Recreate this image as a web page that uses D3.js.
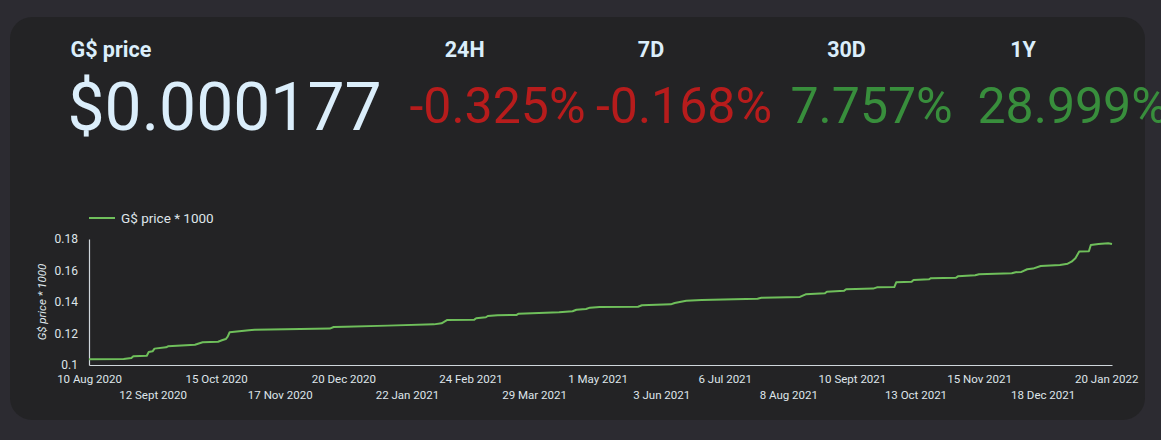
<!DOCTYPE html>
<html>
<head>
<meta charset="utf-8">
<script src="https://cdn.jsdelivr.net/npm/d3@7"></script>
<style>
  html, body { margin: 0; padding: 0; background: #2c2b31; overflow: hidden; }
  svg { display: block; font-family: Roboto, "Noto Sans", sans-serif; }
</style>
</head>
<body>
<svg id="chart" width="1161" height="440"></svg>
<script>
// ---------- data ----------
const priceLabel = "G$ price";
const currentPrice = "$0.000177";
const periods = ["24H", "7D", "30D", "1Y"];
const changes = [-0.325, -0.168, 7.757, 28.999];

const seriesName = "G$ price * 1000";
const dates = ["2020-08-10","2020-08-28","2020-09-01","2020-09-02","2020-09-09","2020-09-10","2020-09-12","2020-09-13","2020-09-19","2020-09-20","2020-10-04","2020-10-08","2020-10-16","2020-10-18","2020-10-20","2020-10-21","2020-10-22","2020-11-01","2020-11-04","2020-11-20","2020-12-13","2020-12-15","2020-12-21",
"2021-01-12","2021-02-05","2021-02-09","2021-02-12","2021-02-26","2021-02-27","2021-03-04","2021-03-05","2021-03-10","2021-03-20","2021-03-21","2021-04-11","2021-04-18","2021-04-20","2021-04-25","2021-04-27","2021-05-02",
"2021-05-22","2021-05-24","2021-06-08","2021-06-10","2021-06-16","2021-06-24","2021-07-11","2021-07-23","2021-07-25","2021-08-14","2021-08-17","2021-08-27","2021-08-28","2021-09-06","2021-09-07","2021-09-12",
"2021-09-21","2021-09-23","2021-10-02","2021-10-03","2021-10-11","2021-10-12","2021-10-20","2021-10-21","2021-11-03","2021-11-04","2021-11-13","2021-11-15","2021-12-02","2021-12-04","2021-12-07","2021-12-10","2021-12-13","2021-12-17","2021-12-27","2021-12-31","2022-01-02","2022-01-04","2022-01-06","2022-01-11","2022-01-12","2022-01-16","2022-01-21","2022-01-23"];
const values = [0.1036,0.1038,0.1044,0.1055,0.1059,0.1083,0.1087,0.1104,0.1112,0.1119,0.1129,0.1144,0.1148,0.1157,0.1165,0.1180,0.1208,0.1220,0.1224,0.1227,0.1231,0.1241,0.1243,
0.1250,0.1258,0.1265,0.1286,0.1288,0.1297,0.1303,0.1311,0.1316,0.1318,0.1326,0.1335,0.1341,0.1351,0.1356,0.1364,0.1368,
0.1370,0.1379,0.1385,0.1394,0.1408,0.1413,0.1417,0.1421,0.1427,0.1432,0.1449,0.1455,0.1465,0.1472,0.1481,0.1483,
0.1485,0.1493,0.1495,0.1525,0.1529,0.1540,0.1544,0.1551,0.1554,0.1563,0.1570,0.1576,0.1582,0.1589,0.1591,0.1608,0.1612,0.1629,0.1635,0.1643,0.1656,0.1678,0.1720,0.1722,0.1762,0.1768,0.1773,0.1768];

const xTickDates = ["2020-08-10","2020-09-12","2020-10-15","2020-11-17","2020-12-20","2021-01-22","2021-02-24","2021-03-29","2021-05-01","2021-06-03","2021-07-06","2021-08-08","2021-09-10","2021-10-13","2021-11-15","2021-12-18","2022-01-20"];
const xTickLabels = ["10 Aug 2020","12 Sept 2020","15 Oct 2020","17 Nov 2020","20 Dec 2020","22 Jan 2021","24 Feb 2021","29 Mar 2021","1 May 2021","3 Jun 2021","6 Jul 2021","8 Aug 2021","10 Sept 2021","13 Oct 2021","15 Nov 2021","18 Dec 2021","20 Jan 2022"];
const yTicks = [0.1, 0.12, 0.14, 0.16, 0.18];
const yTickLabels = ["0.1", "0.12", "0.14", "0.16", "0.18"];
const xDomain = ["2020-08-10", "2022-01-23"];

// ---------- drawing ----------
const parse = d3.utcParse("%Y-%m-%d");
const svg = d3.select("#chart");

const headColor = "#dbeefb";
const axisText = "#dfe5ea";
const red = "#b71c1c", green = "#388e3c";
const lineColor = "#6fbf5b";

// card
svg.append("rect").attr("x", 10).attr("y", 17).attr("width", 1135).attr("height", 403)
  .attr("rx", 22).attr("fill", "#232325");

// header
svg.append("text").attr("x", 70.5).attr("y", 56.7).attr("fill", headColor)
  .attr("font-size", 21.5).attr("font-weight", 700).text(priceLabel);
svg.append("text").attr("x", 67.5).attr("y", 130).attr("fill", headColor)
  .attr("font-size", 66).attr("font-weight", 400).text(currentPrice);

const labelCenters = [464.7, 651, 846.5, 1023];
const valueStarts = [409.5, 596, 790.5, 977.5];
periods.forEach((p, i) => {
  svg.append("text").attr("x", labelCenters[i]).attr("y", 56.7).attr("text-anchor", "middle")
    .attr("fill", headColor).attr("font-size", 21.5).attr("font-weight", 700).text(p);
  svg.append("text").attr("x", valueStarts[i]).attr("y", 122.7)
    .attr("fill", changes[i] < 0 ? red : green)
    .attr("font-size", 50).attr("font-weight", 400)
    .text(changes[i].toFixed(3) + "%");
});

// scales
const x = d3.scaleUtc().domain(xDomain.map(parse)).range([89, 1112]);
const y = d3.scaleLinear().domain([0.1, 0.18]).range([365, 239]);

// y axis
const yAxis = svg.append("g").attr("transform", "translate(89,0)")
  .call(d3.axisLeft(y).tickValues(yTicks).tickSize(0).tickPadding(11)
    .tickFormat((d, i) => yTickLabels[i]));
yAxis.select(".domain").attr("stroke", "#cfd6db").attr("stroke-width", 1.2);
yAxis.selectAll("text").attr("fill", axisText).attr("font-size", 12)
  .attr("font-family", "Roboto, sans-serif");

// x axis
const xAxis = svg.append("g").attr("transform", "translate(0,365)")
  .call(d3.axisBottom(x).tickValues(xTickDates.map(parse)).tickSize(0)
    .tickFormat((d, i) => xTickLabels[i]));
xAxis.select(".domain").attr("stroke", "#cfd6db").attr("stroke-width", 1.2);
xAxis.selectAll("text").attr("fill", axisText).attr("font-size", 11.5)
  .attr("font-family", "Roboto, sans-serif")
  .attr("dy", null)
  .attr("y", (d, i) => i % 2 === 0 ? 17.7 : 34);

// y axis title
svg.append("text").attr("transform", "translate(46,302) rotate(-90)")
  .attr("text-anchor", "middle").attr("fill", axisText).attr("font-size", 11.5)
  .attr("font-style", "italic").text(seriesName);

// legend
svg.append("line").attr("x1", 89).attr("x2", 115).attr("y1", 218).attr("y2", 218)
  .attr("stroke", lineColor).attr("stroke-width", 2);
svg.append("text").attr("x", 121).attr("y", 222.5).attr("fill", axisText)
  .attr("font-size", 13.5).text(seriesName);

// line
const data = dates.map((d, i) => ({ date: parse(d), value: values[i] }));
svg.append("path").datum(data)
  .attr("fill", "none").attr("stroke", lineColor).attr("stroke-width", 2)
  .attr("stroke-linejoin", "round")
  .attr("d", d3.line().x(d => x(d.date)).y(d => y(d.value)));
</script>
</body>
</html>
